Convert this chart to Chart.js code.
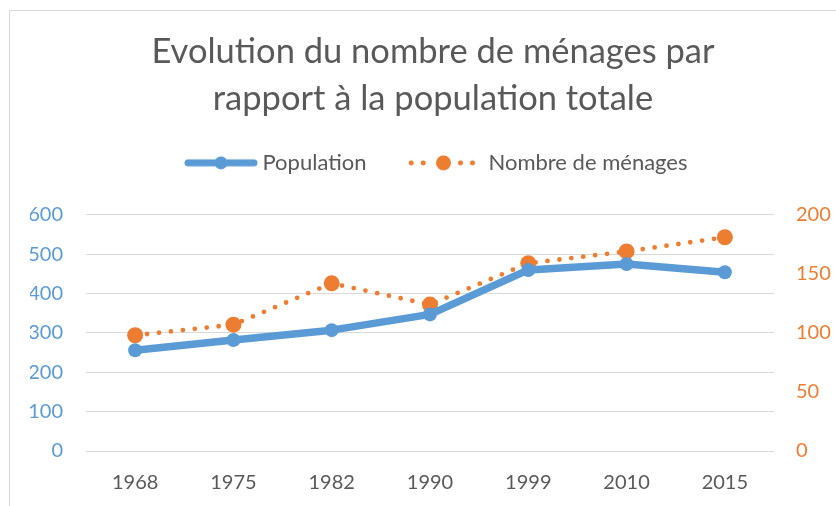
<!DOCTYPE html>
<html>
<head>
<meta charset="utf-8">
<script src="https://cdn.jsdelivr.net/npm/chart.js@4/dist/chart.umd.min.js"></script>
<style>
  body { margin: 0; width: 836px; height: 506px; overflow: hidden; background: #fff; position: relative; }
  #frame { position: absolute; left: 9px; top: 10px; width: 900px; height: 600px; border: 1px solid #d9d9d9; }
  #wrap { position: absolute; left: 0; top: 0; width: 836px; height: 506px; }
</style>
</head>
<body>
<div id="frame"></div>
<div id="wrap"><canvas id="chart"></canvas></div>
<script>
'use strict';

const years = ['1968', '1975', '1982', '1990', '1999', '2010', '2015'];
const population = [256, 282, 307, 347, 460, 475, 454];
const menages = [98, 107, 142, 124, 159, 169, 181];
const titleLines = ['Evolution du nombre de ménages par', 'rapport à la population totale'];

const blue = '#5B9BD5';
const orange = '#ED7D31';
const grey = '#595959';

// petites images pour la légende
function popIcon() {
	const c = document.createElement('canvas');
	c.width = 96; c.height = 22;
	const g = c.getContext('2d');
	g.strokeStyle = blue; g.lineWidth = 7; g.lineCap = 'round';
	g.beginPath(); g.moveTo(21, 11); g.lineTo(87, 11); g.stroke();
	g.fillStyle = blue;
	g.beginPath(); g.arc(54, 11, 6.5, 0, Math.PI * 2); g.fill();
	return c;
}
function menIcon() {
	const c = document.createElement('canvas');
	c.width = 96; c.height = 22;
	const g = c.getContext('2d');
	g.fillStyle = orange;
	[18.2, 30.2, 67.5, 79.5].forEach(function(x) {
		g.beginPath(); g.arc(x, 11, 2.5, 0, Math.PI * 2); g.fill();
	});
	g.beginPath(); g.arc(50.5, 11, 7.5, 0, Math.PI * 2); g.fill();
	return c;
}

const config = {
	type: 'line',
	data: {
		labels: years,
		datasets: [
			{
				label: 'Population',
				data: population,
				yAxisID: 'y',
				borderColor: blue,
				backgroundColor: blue,
				borderWidth: 7.5,
				borderJoinStyle: 'round',
				pointRadius: 7,
				pointHoverRadius: 7,
				pointBorderWidth: 0,
				tension: 0
			},
			{
				label: 'Nombre de ménages',
				data: menages,
				yAxisID: 'y1',
				borderColor: orange,
				backgroundColor: orange,
				borderWidth: 4.8,
				borderDash: [0, 12],
				borderCapStyle: 'round',
				pointRadius: 8,
				pointHoverRadius: 8,
				pointBorderWidth: 0,
				tension: 0
			}
		]
	},
	options: {
		responsive: false,
		animation: false,
		layout: { padding: { left: 30, right: 0, top: 0, bottom: 0 } },
		plugins: {
			title: {
				display: true,
				text: titleLines,
				color: grey,
				font: { family: 'Lato', size: 34.5, weight: 'normal', lineHeight: 1.36 },
				padding: { top: 28, bottom: -8 }
			},
			subtitle: {
				display: true,
				text: '',
				weight: 500,
				font: { size: 1, lineHeight: 1 },
				padding: { top: 30, bottom: 0 }
			},
			legend: {
				display: true,
				position: 'top',
				onClick: (e) => e.stopPropagation(),
				labels: {
					usePointStyle: true,
					pointStyleWidth: 73,
					padding: 38,
					color: grey,
					font: { family: 'Lato', size: 22 },
					generateLabels: function(chart) {
						const icons = [popIcon(), menIcon()];
						return chart.data.datasets.map(function(ds, i) {
							return {
								text: ds.label,
								pointStyle: icons[i],
								fontColor: grey,
								datasetIndex: i,
								hidden: false,
								lineWidth: 0
							};
						});
					}
				}
			},
			tooltip: { enabled: false }
		},
		scales: {
			x: {
				offset: true,
				grid: { display: false },
				border: { display: false },
				ticks: { color: grey, font: { family: 'Lato', size: 20 }, padding: 12, maxRotation: 0 },
				afterFit: function(s) { s.height = 55; }
			},
			y: {
				position: 'left',
				min: 0, max: 600,
				ticks: { stepSize: 100, color: blue, font: { family: 'Lato', size: 20 }, padding: 23 },
				grid: { color: '#d9d9d9', lineWidth: 1, drawTicks: false },
				border: { display: false },
				afterFit: function(s) { s.width = 56; }
			},
			y1: {
				position: 'right',
				min: 0, max: 200,
				ticks: { stepSize: 50, color: orange, font: { family: 'Lato', size: 20 }, padding: 22 },
				grid: { display: false, drawTicks: false },
				border: { display: false },
				afterFit: function(s) { s.width = 62; }
			}
		}
	}
};

window.addEventListener('load', function() {
	const canvas = document.getElementById('chart');
	canvas.width = 836;
	canvas.height = 506;
	const chart = new Chart(canvas.getContext('2d'), config);
	window.chartRef = chart;
}, false);
</script>
</body>
</html>
